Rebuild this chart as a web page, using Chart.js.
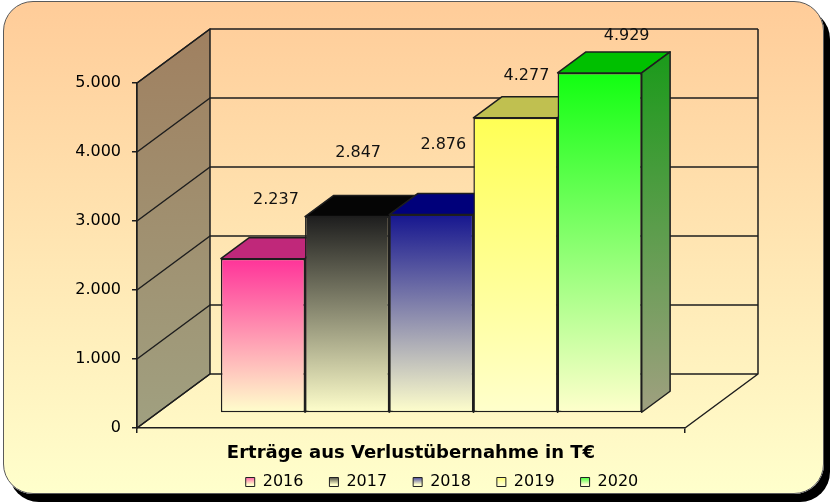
<!DOCTYPE html>
<html lang="de">
<head>
<meta charset="utf-8">
<title>Erträge aus Verlustübernahme</title>
<script src="https://cdn.jsdelivr.net/npm/chart.js@4.4.1/dist/chart.umd.min.js"></script>
<style>
  html, body { margin: 0; padding: 0; background: #fff; }
  #frame {
    position: absolute; left: 3px; top: 1px; width: 819px; height: 491px;
    border: 1px solid #5a5a5a; border-radius: 30px;
    background: linear-gradient(to bottom, #ffcc99 0%, #ffffcc 100%);
    box-shadow: 6px 8px 0 #000;
  }
  #chart { position: absolute; left: 0; top: 0; }
</style>
</head>
<body>
<div id="frame"></div>
<canvas id="chart" width="831" height="504"></canvas>
<script>
const categories = ['Erträge aus Verlustübernahme in T€'];
const years = ['2016', '2017', '2018', '2019', '2020'];
const values = [2237, 2847, 2876, 4277, 4929];
const yTicks = [0, 1000, 2000, 3000, 4000, 5000];

// colours per year: front face (top of gradient), top face, side face
const frontColors = ['#ff3399', '#1e1e1e', '#16168f', '#ffff55', '#11ff11'];
const topColors = ['#c0287a', '#050505', '#00007a', '#c0c050', '#00c000'];
const sideColors = ['#a0205f', '#131313', '#0e0e5a', '#a0a036', '#1a9a1a'];
const CREAM = '#ffffcc';
const SIDE_CREAM = '#a0a080';
const LINE = '#1e1e1e';
const FONT = 'DejaVu Sans';

// depth of the 3d box and where the bars sit inside it (fractions of depth)
const DEPTH = { dx: 73, dy: 54, front: 0.278, back: 0.667 };

const fmt = v => String(v).replace(/\B(?=(\d{3})+(?!\d))/g, '.');

function frontFill(chart, i) {
  const y = chart.scales.y;
  if (!chart.chartArea || !y) return frontColors[i];
  const g = chart.ctx.createLinearGradient(0, y.getPixelForValue(values[i]), 0, y.getPixelForValue(0));
  g.addColorStop(0, frontColors[i]);
  g.addColorStop(1, CREAM);
  return g;
}

const box3d = {
  id: 'box3d',
  beforeDatasetsDraw(chart) {
    const { ctx, chartArea: a, scales: { y } } = chart;
    const { dx, dy } = DEPTH;

    ctx.save();
    ctx.lineWidth = 1.5;
    ctx.strokeStyle = LINE;
    ctx.lineJoin = 'round';

    // left wall
    const wall = ctx.createLinearGradient(0, a.top - dy, 0, a.bottom);
    wall.addColorStop(0, '#a08060');
    wall.addColorStop(1, '#a0a080');
    ctx.fillStyle = wall;
    ctx.beginPath();
    ctx.moveTo(a.left, a.bottom);
    ctx.lineTo(a.left, a.top);
    ctx.lineTo(a.left + dx, a.top - dy);
    ctx.lineTo(a.left + dx, a.bottom - dy);
    ctx.closePath();
    ctx.fill();
    ctx.stroke();

    // grid lines running over the left wall and the back wall
    ctx.beginPath();
    y.ticks.forEach(t => {
      const py = y.getPixelForValue(t.value);
      ctx.moveTo(a.left, py);
      ctx.lineTo(a.left + dx, py - dy);
      ctx.lineTo(a.right + dx, py - dy);
    });
    ctx.moveTo(a.right + dx, a.top - dy);
    ctx.lineTo(a.right + dx, a.bottom - dy);
    ctx.lineTo(a.right, a.bottom);
    ctx.stroke();
    ctx.restore();

    // bars sit a bit behind the front plane; shift them and draw top + side faces
    ctx.save();
    ctx.translate(dx * DEPTH.front, -dy * DEPTH.front);
    const ddx = dx * (DEPTH.back - DEPTH.front);
    const ddy = dy * (DEPTH.back - DEPTH.front);
    ctx.lineWidth = 1.5;
    ctx.strokeStyle = LINE;
    ctx.lineJoin = 'round';
    chart.data.datasets.forEach((ds, i) => {
      const bar = chart.getDatasetMeta(i).data[0];
      if (!bar) return;
      const l = bar.x - bar.width / 2, r = bar.x + bar.width / 2, t = bar.y, b = bar.base;

      ctx.fillStyle = topColors[i];
      ctx.beginPath();
      ctx.moveTo(l, t);
      ctx.lineTo(r, t);
      ctx.lineTo(r + ddx, t - ddy);
      ctx.lineTo(l + ddx, t - ddy);
      ctx.closePath();
      ctx.fill();
      ctx.stroke();

      const side = ctx.createLinearGradient(0, t - ddy, 0, b);
      side.addColorStop(0, sideColors[i]);
      side.addColorStop(1, SIDE_CREAM);
      ctx.fillStyle = side;
      ctx.beginPath();
      ctx.moveTo(r, t);
      ctx.lineTo(r + ddx, t - ddy);
      ctx.lineTo(r + ddx, b - ddy);
      ctx.lineTo(r, b);
      ctx.closePath();
      ctx.fill();
      ctx.stroke();
    });
  },
  afterDatasetsDraw(chart, args, opts) {
    const { ctx } = chart;
    ctx.restore(); // undo the depth shift

    ctx.save();
    ctx.font = `16px "${FONT}"`;
    ctx.fillStyle = '#111';
    ctx.textAlign = 'center';
    ctx.textBaseline = 'middle';
    chart.data.datasets.forEach((ds, i) => {
      const bar = chart.getDatasetMeta(i).data[0];
      if (!bar) return;
      const [ox, lift] = opts.nudge[i];
      const x = bar.x + DEPTH.dx * DEPTH.front + ox;
      const top = bar.y - DEPTH.dy * DEPTH.back;
      ctx.fillText(fmt(ds.data[0]), x, top - lift);
    });
    ctx.restore();
  }
};

new Chart(document.getElementById('chart'), {
  type: 'bar',
  data: {
    labels: categories,
    datasets: years.map((yr, i) => ({
      label: yr,
      data: [values[i]],
      yAxisID: 'y',
      backgroundColor: ctx => frontFill(ctx.chart, i),
      borderColor: LINE,
      borderWidth: 1.5,
      borderSkipped: false,
      categoryPercentage: 0.768,
      barPercentage: 1,
      clip: false,
    })),
  },
  options: {
    responsive: false,
    animation: false,
    events: [],
    layout: { padding: { left: 53, right: 0, top: 83, bottom: 4 } },
    scales: {
      x: {
        offset: true,
        grid: { drawOnChartArea: false, drawTicks: true, tickLength: 5, color: LINE, lineWidth: 1.5, offset: true },
        border: { display: true, color: LINE, width: 1.5 },
        ticks: { display: false },
        // the single category name is shown as the axis caption (tick labels get clipped to the thin axis box)
        title: {
          display: true,
          text: categories[0],
          color: '#000',
          font: { family: FONT, size: 18, weight: 'bold' },
          padding: { top: 0, bottom: -16 },
        },
        afterFit: s => { s.height = 20; },
      },
      y: {
        min: 0,
        max: 5000,
        afterBuildTicks: s => { s.ticks = yTicks.map(v => ({ value: v })); },
        grid: { drawOnChartArea: false, tickLength: 5, color: LINE, lineWidth: 1.5 },
        border: { display: true, color: LINE, width: 1.5 },
        ticks: { color: '#000', padding: 11, font: { family: FONT, size: 16 }, callback: v => fmt(v) },
        afterFit: s => { s.width = 84; },
      },
      y2: {
        type: 'linear',
        position: 'right',
        display: true,
        ticks: { display: false },
        grid: { display: false },
        border: { display: false },
        afterFit: s => { s.width = 146; },
      },
    },
    plugins: {
      tooltip: { enabled: false },
      legend: {
        position: 'bottom',
        labels: {
          boxWidth: 9,
          boxHeight: 9,
          padding: 26,
          color: '#000',
          font: { family: FONT, size: 16 },
          generateLabels(chart) {
            const cy = chart.height - 24;
            return chart.data.datasets.map((ds, i) => {
              const g = chart.ctx.createLinearGradient(0, cy - 4.5, 0, cy + 4.5);
              g.addColorStop(0, frontColors[i]);
              g.addColorStop(1, CREAM);
              return {
                text: ds.label,
                fillStyle: g,
                strokeStyle: '#222',
                lineWidth: 1,
                fontColor: '#000',
                hidden: false,
                datasetIndex: i,
              };
            });
          },
        },
      },
      box3d: {
        nudge: [[13, 38], [11, 43], [12, 49], [11, 21], [27, 16]],
      },
    },
  },
  plugins: [box3d],
});
</script>
</body>
</html>
